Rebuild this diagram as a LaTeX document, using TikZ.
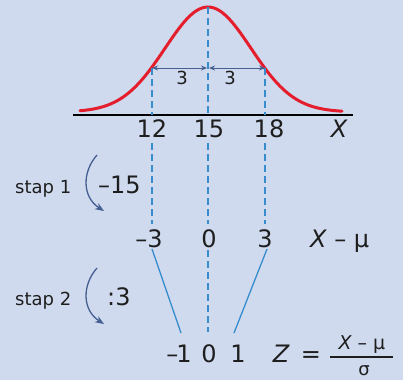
\documentclass[tikz,border=0pt]{standalone}
\usepackage{fontspec}
\setmainfont{DejaVu Sans}
\usetikzlibrary{arrows.meta}
\definecolor{bg}{RGB}{207,218,238}
\definecolor{curvered}{RGB}{228,30,45}
\definecolor{dashblue}{RGB}{55,140,205}
\definecolor{arrowblue}{RGB}{70,95,145}
\definecolor{txt}{RGB}{30,30,30}
\begin{document}
\begin{tikzpicture}[x=1pt,y=-1pt,
  big/.style={font=\fontsize{24}{28}\selectfont, text=txt, inner sep=0pt, anchor=base},
  mid/.style={font=\fontsize{18}{22}\selectfont, text=txt, inner sep=0pt, anchor=base},
  dashline/.style={dashblue, line width=1.3pt, dash pattern=on 7pt off 4pt},
  solidline/.style={dashblue, line width=1.3pt},
  dimarrow/.style={arrowblue, line width=1pt, {Stealth[length=6pt,width=5pt]}-{Stealth[length=6pt,width=5pt]}},
  steparrow/.style={arrowblue, line width=1.3pt, -{Stealth[length=9pt,width=7pt]}}]
\fill[bg] (0,0) rectangle (403,380);
\useasboundingbox (0,0) rectangle (403,380);
% curve
\draw[curvered, line width=3pt, line cap=round, domain=80:342, samples=120]
  plot (\x, {112-105*exp(-0.5*((\x-208)/43)^2)});
% axis
\coordinate (axL) at (73,115);
\coordinate (axR) at (353,115);
\draw[black, line width=1.5pt] (axL) -- (axR);
% key points
\coordinate (peak) at (208,7);
\coordinate (inL) at (152,68);
\coordinate (inM) at (208,68);
\coordinate (inR) at (265,68);
\coordinate (bL) at (152,115);
\coordinate (bM) at (208,115);
\coordinate (bR) at (265,115);
\coordinate (uL) at (152,143);
\coordinate (uM) at (208,143);
\coordinate (uR) at (265,143);
\coordinate (dL) at (152,224);
\coordinate (dM) at (208,224);
\coordinate (dR) at (265,224);
\draw[dashline] (peak) -- (bM);
\draw[dashline] (inL) -- (bL);
\draw[dashline] (inR) -- (bR);
\draw[dashline] (uL) -- (dL);
\draw[dashline] (uM) -- (dM);
\draw[dashline] (uR) -- (dR);
% dimension arrows
\draw[dimarrow] (inL) -- (207,68);
\draw[dimarrow] (209,68) -- (inR);
\node[mid] (d1) at (182,84) {3};
\node[mid] (d2) at (230,84) {3};
% axis labels
\node[big] (n12) at (152,137) {12};
\node[big] (n15) at (209,137) {15};
\node[big] (n18) at (269,137) {18};
\node[big] (nX) at (339,137) {\itshape X};
% step 1
\node[mid, anchor=base west] (s1) at (15,193) {stap 1};
\node[big, anchor=base west] (m15) at (98,193) {–15};
\coordinate (a1s) at (97,155);
\coordinate (a1e) at (104,211);
\draw[steparrow] (a1s) .. controls (82,172) and (82,197) .. (a1e);
% X - mu row
\node[big] (r1) at (149,247) {–3};
\node[big] (r2) at (209,247) {0};
\node[big] (r3) at (265,247) {3};
\node[big, anchor=base west] (xmu) at (310,247) {{\itshape X} – μ};
% step 2
\node[mid, anchor=base west] (s2) at (15,305) {stap 2};
\node[big, anchor=base west] (d3) at (107,305) {:3};
\coordinate (a2s) at (97,268);
\coordinate (a2e) at (104,324);
\draw[steparrow] (a2s) .. controls (82,285) and (82,310) .. (a2e);
% z row
\node[big] (z1) at (179,362) {–\kern-2pt1};
\node[big] (z2) at (209,362) {0};
\node[big] (z3) at (238,362) {1};
\node[big] (zZ) at (281,362) {\itshape Z};
\node[big] (zeq) at (311,362) {=};
\node[font=\fontsize{19}{22}\selectfont, text=txt, inner sep=0pt, anchor=base] (znum) at (362,349) {{\itshape X} – μ};
\node[mid] (zden) at (364,375) {σ};
\coordinate (fbL) at (330,357);
\coordinate (fbR) at (393,357);
\draw[txt, line width=1.2pt] (fbL) -- (fbR);
% connecting lines
\coordinate (cL1) at (152,249);
\coordinate (cM1) at (208,250);
\coordinate (cR1) at (267,249);
\coordinate (cL2) at (181,333);
\coordinate (cM2) at (208,332);
\coordinate (cR2) at (234,333);
\draw[solidline] (cL1) -- (cL2);
\draw[dashline] (cM1) -- (cM2);
\draw[solidline] (cR1) -- (cR2);
\end{tikzpicture}
\end{document}
